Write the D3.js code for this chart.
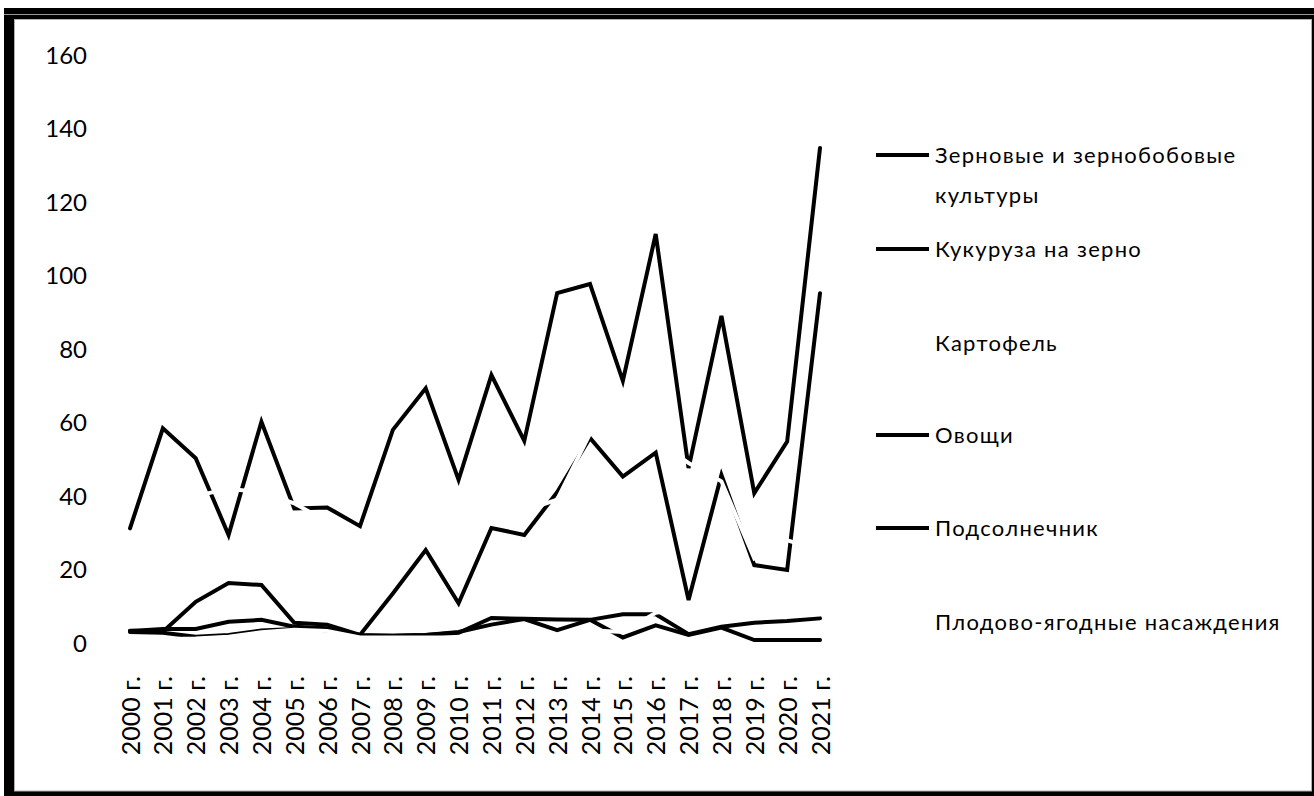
<!DOCTYPE html>
<html>
<head>
<meta charset="utf-8">
<script src="https://cdn.jsdelivr.net/npm/d3@7"></script>
<style>
  html, body { margin: 0; padding: 0; background: #fff; }
  svg { display: block; }
  text { font-family: Lato, "Open Sans", sans-serif; fill: #000; }
</style>
</head>
<body>
<svg id="chart" width="1314" height="796"></svg>
<script>
// ---- data ----
const years = ["2000 г.","2001 г.","2002 г.","2003 г.","2004 г.","2005 г.","2006 г.","2007 г.","2008 г.","2009 г.","2010 г.","2011 г.","2012 г.","2013 г.","2014 г.","2015 г.","2016 г.","2017 г.","2018 г.","2019 г.","2020 г.","2021 г."];
const yTicks = [0, 20, 40, 60, 80, 100, 120, 140, 160];

const seriesNames = ["Зерновые и зернобобовые культуры", "Кукуруза на зерно", "Картофель", "Овощи", "Подсолнечник", "Плодово-ягодные насаждения"];
const seriesColors = ["#000000", "#000000", "#ffffff", "#000000", "#000000", "#ffffff"];

const grain      = [31.2, 58.4, 50.3, 29.4, 60.2, 36.6, 36.9, 31.8, 58.0, 69.3, 44.4, 72.9, 55.0, 95.2, 97.7, 71.3, 111.3, 47.6, 89.0, 40.8, 54.8, 134.7];
const corn       = [3.3, 3.1, 11.2, 16.3, 15.8, 5.5, 5.0, 2.2, 13.5, 25.3, 10.8, 31.3, 29.4, 41.0, 55.8, 45.3, 51.8, 11.7, 45.7, 21.2, 19.9, 95.2];
const potato     = [27, 33, 40, 42, 41, 38, 33, 28, 30, 32, 34, 35, 36, 39, 57, 60, 55, 49, 44, 23, 28, 25];
const vegetables = [3.3, 3.8, 3.8, 5.8, 6.3, 4.4, 4.0, 2.2, 2.0, 2.2, 3.0, 5.0, 6.5, 3.5, 6.3, 7.8, 7.8, 2.4, 4.4, 5.5, 6.0, 6.7];
const sunflower  = [3.0, 2.8, 1.7, 2.2, 3.4, 3.8, 3.5, 2.0, 2.0, 2.2, 2.8, 6.8, 6.6, 6.4, 6.3, 1.5, 4.8, 2.2, 4.2, 0.8, 0.8, 0.8];
const fruit      = [1.5, 1.0, 1.2, 1.7, 2.9, 3.6, 3.3, 1.5, 1.5, 1.5, 1.5, 1.5, 1.5, 1.5, 3.5, 3.0, 8.2, 9.5, 9.0, 9.0, 9.0, 9.0];

const seriesValues = [grain, corn, potato, vegetables, sunflower, fruit];

// ---- drawing ----
const svg = d3.select("#chart");

// frame
svg.append("rect").attr("x", 4).attr("y", 8).attr("width", 1310).attr("height", 788).attr("fill", "#000");
svg.append("line").attr("x1", 4).attr("x2", 1314).attr("y1", 14.5).attr("y2", 14.5).attr("stroke", "#9a9a9a").attr("stroke-width", 1);
svg.append("rect").attr("x", 14.5).attr("y", 19.5).attr("width", 1297).attr("height", 771.5)
   .attr("fill", "#fff").attr("stroke", "#b0b0b0").attr("stroke-width", 1);

const x = d3.scalePoint().domain(years).range([130, 820]);
const y = d3.scaleLinear().domain([0, 160]).range([643, 55]);

// y axis (labels only)
const yAxis = d3.axisLeft(y).tickValues(yTicks).tickSize(0).tickPadding(0);
const yg = svg.append("g").attr("transform", "translate(87,0)").call(yAxis);
yg.select(".domain").remove();
yg.selectAll("text").style("font-family", "Lato, sans-serif").style("font-size", "24px").attr("fill", "#000").attr("dy", "0.35em");

// x axis (rotated labels only)
const xAxis = d3.axisBottom(x).tickSize(0).tickPadding(0);
const xg = svg.append("g").attr("transform", "translate(0,676)").call(xAxis);
xg.select(".domain").remove();
xg.selectAll("text")
  .style("font-family", "Lato, sans-serif").style("font-size", "25px").attr("fill", "#000")
  .attr("text-anchor", "end")
  .attr("transform", "rotate(-90)")
  .attr("x", 0).attr("y", 0).attr("dy", "0.36em");

// lines
const line = d3.line()
  .x((d, i) => x(years[i]))
  .y(d => y(d));

seriesValues.forEach((vals, k) => {
  svg.append("path")
    .datum(vals)
    .attr("d", line)
    .attr("fill", "none")
    .attr("stroke", seriesColors[k])
    .attr("stroke-width", 4)
    .attr("stroke-linejoin", "miter")
    .attr("stroke-linecap", "round");
});

// legend
const legendRows = [155, 249, 343, 435, 528, 622];
const lg = svg.append("g");
seriesNames.forEach((name, k) => {
  const ly = legendRows[k];
  lg.append("line").attr("x1", 876).attr("x2", 929).attr("y1", ly).attr("y2", ly)
    .attr("stroke", seriesColors[k]).attr("stroke-width", 4);
  const t = lg.append("text").attr("x", 935).attr("y", ly).attr("dy", "0.35em")
    .style("font-size", "22px").style("letter-spacing", "1.3px");
  if (k === 0) {
    t.text("Зерновые и зернобобовые");
    lg.append("text").attr("x", 935).attr("y", ly + 40).attr("dy", "0.35em")
      .style("font-size", "22px").style("letter-spacing", "1.3px").text("культуры");
  } else {
    t.text(name);
  }
});
</script>
</body>
</html>
